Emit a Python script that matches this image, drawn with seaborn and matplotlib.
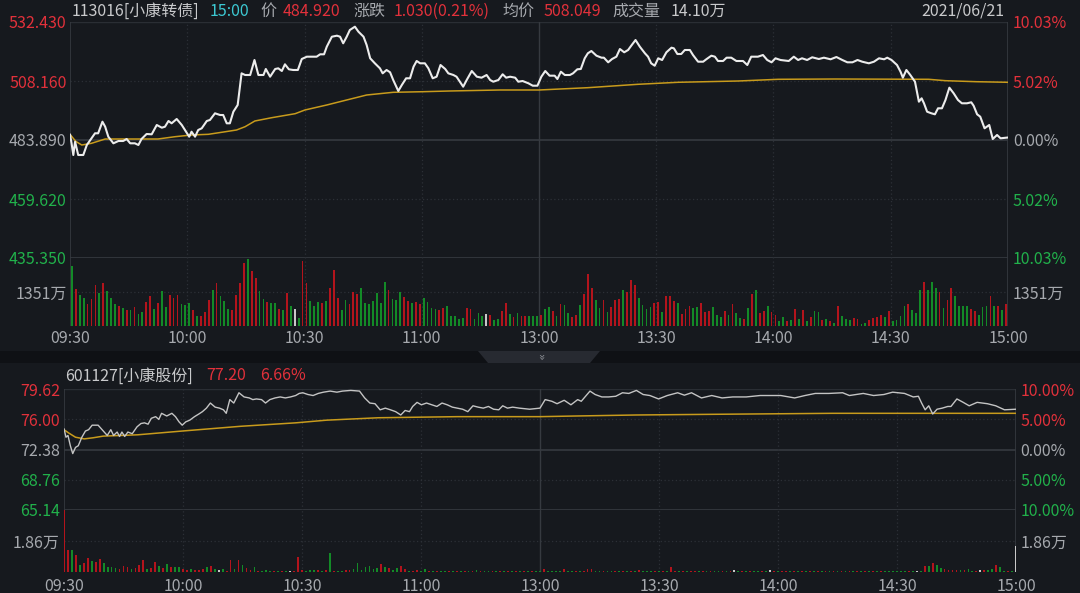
import numpy as np
import pandas as pd
import matplotlib
matplotlib.use('Agg')
import matplotlib.pyplot as plt
import seaborn as sns
from matplotlib.patches import Polygon, Rectangle

# --- colours ---
BG = '#16191e'
RED = '#e2313b'
GREEN = '#21b14b'
GRAY = '#a6a9ae'
LIGHT = '#c9cacc'
CYAN = '#3cc8d2'
GOLD = '#c89b1c'
GRID_SOLID = '#363a40'
GRID_DOT = '#2c3036'

sns.set_theme(style='dark', rc={'figure.facecolor': BG, 'axes.facecolor': BG,
                                'savefig.facecolor': BG})
plt.rcParams['font.family'] = ['Noto Sans CJK SC', 'DejaVu Sans']

# --- 1. 113016 小康转债: minute price / average price ---
cb_min = [0, 0.4, 0.85, 1.3, 2.1, 3.4, 4.3, 5.5, 6.4, 7.2,
          8.3, 9.0, 9.8, 11.1, 12.4, 13.6, 14.5, 15.4, 16.6, 17.5,
          18.3, 19.6, 20.9, 22.2, 23.5, 24.3, 25.2, 26.0, 27.3, 28.6,
          29.4, 30.5, 31.1, 32.0, 32.8, 33.7, 35.0, 35.8, 37.1, 38.4,
          39.2, 40.1, 40.9, 41.8, 42.9, 43.9, 44.8, 46.1, 47.2, 48.2,
          49.5, 50.1, 51.2, 52.5, 53.3, 54.2, 55.0, 56.0, 57.1, 58.3,
          59.3, 60.6, 63.1, 64.0, 65.0, 65.7, 67.0, 68.3, 69.1, 69.9,
          70.8, 71.6, 72.9, 73.8, 75.1, 75.9, 76.8, 78.0, 79.3, 80.0,
          81.0, 81.9, 82.7, 84.0, 84.9, 86.0, 87.0, 87.9, 88.7, 89.6,
          90.8, 91.7, 92.8, 93.8, 94.8, 96.0, 96.8, 98.1, 98.9, 100.6,
          101.5, 102.8, 104.1, 105.3, 106.6, 107.5, 108.3, 109.6, 110.7, 111.6,
          112.6, 113.9, 114.7, 115.8, 117.3, 118.4, 119.6, 120.6, 121.6, 122.7,
          124.0, 124.7, 125.6, 126.6, 127.9, 128.7, 129.8, 130.7, 131.7, 132.5,
          133.4, 134.7, 136.0, 136.6, 137.7, 138.7, 139.8, 140.7, 141.8, 142.8,
          143.6, 144.7, 145.8, 147.1, 147.9, 148.7, 149.6, 150.5, 151.5, 152.6,
          153.9, 154.5, 155.4, 156.4, 157.3, 158.6, 159.4, 160.7, 162.0, 162.8,
          164.1, 165.0, 165.8, 167.1, 168.0, 169.2, 170.5, 172.2, 173.3, 174.3,
          176.0, 177.3, 178.4, 179.5, 180.5, 181.8, 183.9, 185.2, 186.3, 187.3,
          188.6, 189.9, 191.6, 192.9, 194.6, 196.1, 197.6, 198.9, 200.2, 201.5,
          202.7, 204.4, 205.7, 207.0, 208.3, 209.1, 210.2, 211.6, 212.5, 213.1,
          214.0, 215.0, 216.2, 217.2, 217.9, 218.5, 219.3, 220.4, 221.3, 222.1,
          223.1, 224.0, 225.0, 226.1, 227.2, 228.2, 229.5, 230.6, 231.2, 232.1,
          232.9, 234.0, 234.6, 235.2, 236.1, 237.2, 238.1, 240]
cb_price = [486.2, 482.53, 477.72, 483.19, 477.72, 477.72, 481.83, 484.59, 486.65, 486.65,
            491.42, 489.36, 485.25, 482.53, 483.48, 483.48, 484.30, 482.53, 482.53, 481.83,
            484.30, 486.36, 486.23, 490.06, 488.95, 489.36, 491.71, 490.76, 492.53, 490.06,
            488.00, 485.25, 487.30, 485.25, 488.00, 488.70, 491.71, 492.12, 494.87, 494.17,
            494.17, 490.76, 490.76, 495.53, 498.29, 511.31, 510.63, 510.63, 516.80, 510.63,
            510.63, 513.10, 509.93, 513.10, 513.38, 512.27, 515.03, 512.97, 512.69, 512.69,
            517.21, 518.16, 518.16, 519.14, 519.14, 522.27, 526.38, 526.80, 526.38, 523.67,
            526.38, 529.14, 530.50, 528.44, 526.38, 522.97, 517.50, 515.44, 513.38, 511.31,
            512.69, 511.74, 508.57, 504.05, 506.51, 509.27, 509.27, 514.04, 516.39, 515.44,
            515.44, 513.38, 509.27, 509.93, 514.74, 513.10, 511.31, 510.63, 509.93, 505.82,
            508.57, 512.27, 509.93, 509.52, 510.63, 508.57, 507.87, 508.57, 510.92, 509.52,
            509.93, 509.52, 507.87, 508.16, 507.21, 506.23, 506.23, 509.93, 512.27, 510.35,
            510.35, 508.98, 511.99, 510.63, 510.63, 511.31, 512.97, 513.10, 517.50, 519.56,
            520.50, 518.57, 517.75, 517.75, 515.85, 517.21, 518.16, 521.32, 519.97, 520.91,
            522.68, 525.02, 522.27, 519.56, 518.16, 515.44, 514.45, 517.50, 516.80, 519.97,
            521.86, 521.62, 519.27, 519.27, 520.91, 520.91, 518.85, 516.10, 516.10, 517.09,
            518.57, 518.16, 516.39, 516.39, 517.75, 517.75, 516.39, 516.39, 514.74, 518.16,
            518.16, 518.85, 516.80, 515.85, 517.50, 516.80, 516.39, 518.16, 516.80, 517.50,
            516.80, 517.91, 517.21, 517.75, 517.09, 518.03, 516.80, 515.85, 515.85, 516.80,
            516.10, 515.44, 516.10, 517.50, 517.09, 517.75, 516.80, 514.74, 511.99, 509.52,
            512.69, 510.63, 507.87, 499.65, 501.04, 498.99, 495.53, 494.87, 494.46, 496.93,
            496.93, 500.35, 505.41, 503.10, 500.35, 498.99, 498.99, 499.40, 498.00, 494.46,
            493.48, 488.70, 489.36, 490.06, 484.30, 485.95, 484.59, 484.92]
cb_avg_min = [0, 1.5, 3.0, 5.5, 9.0, 22.5, 26.9, 31.1, 35.4, 38.8, 42.6, 44.8, 47.3,
              51.6, 57.6, 60.1, 65.7, 70.8, 75.9, 82.7, 90.4, 97.2, 110.0, 120.0,
              132.5, 145.3, 155.6, 171.0, 181.2, 195.8, 219.7, 224.0, 231.9, 240]
cb_avg = [486.2, 483.3, 481.83, 482.53, 484.30, 484.30, 485.25, 485.95, 486.23, 487.06,
          488.00, 489.36, 491.71, 493.06, 494.71, 496.23, 498.29, 500.35, 502.40, 503.51,
          503.76, 504.05, 504.46, 504.46, 505.41, 506.80, 507.63, 508.16, 508.86, 508.98,
          508.86, 508.29, 507.87, 507.63]
# volume per minute (万), direction r=up g=down w=flat
cb_vol = [2391, 1486, 1216, 1121, 878, 1054, 1621, 1324, 1716, 1378,
          1108, 878, 784, 716, 648, 648, 743, 473, 540, 946,
          1175, 676, 905, 1378, 770, 1243, 1108, 1243, 878, 851,
          919, 635, 405, 392, 540, 1040, 1419, 1689, 1175, 1013,
          676, 648, 1243, 1689, 2499, 2675, 2202, 1891, 1378, 1054,
          973, 905, 905, 662, 635, 1310, 811, 676, 311, 2594,
          1689, 1000, 811, 973, 932, 1013, 1513, 2229, 1108, 648,
          1040, 878, 1351, 1283, 1513, 905, 878, 986, 1310, 905,
          1756, 1446, 1081, 1040, 1351, 1148, 1013, 905, 946, 878,
          1108, 946, 716, 676, 648, 703, 784, 405, 405, 270,
          311, 716, 676, 297, 500, 405, 473, 446, 243, 270,
          581, 919, 473, 365, 500, 405, 405, 405, 405, 405,
          446, 676, 743, 581, 405, 878, 851, 500, 338, 446,
          851, 1283, 2067, 1527, 1040, 716, 1040, 540, 770, 1040,
          1081, 1419, 1351, 1824, 1648, 1121, 838, 676, 743, 932,
          973, 540, 1202, 1175, 986, 932, 473, 676, 784, 716,
          770, 905, 540, 608, 743, 446, 365, 608, 446, 878,
          500, 311, 270, 716, 1256, 1446, 500, 608, 811, 540,
          446, 203, 365, 203, 230, 676, 270, 648, 203, 338,
          581, 540, 243, 297, 203, 135, 811, 405, 270, 243,
          311, 270, 95, 122, 243, 311, 338, 446, 338, 581,
          203, 243, 405, 784, 878, 635, 500, 1419, 1756, 1419,
          1729, 1513, 1351, 716, 1040, 1513, 1189, 811, 784, 811,
          676, 581, 432, 743, 811, 1189, 811, 784, 635, 878]
cb_dir = ("grggrrrgrg" "ggrgrgrggr" "rgrggrrrgg" "grgrrrgrgg" "grrrrgrrgg"
          "rggrgrgwgr" "rgggrgrrrg" "grrrgggggg" "grgggrrgrr" "ggggrrgggg"
          "grrgggwrgg" "rrgrgrrggg" "rggrgrggrr" "grrrggrgrr" "rgrrrggggr"
          "rgrrrgrrrg" "grrrgggrgr" "ggrgrgrrgr" "rggrgrgrgr" "ggrgrgrggg"
          "rrggrrrrgr" "ggggrgggrg" "ggrgrrgggg" "rrgggrgrgr")

# --- 2. 601127 小康股份 ---
st_min = [0, 0.5, 1.0, 1.6, 2.2, 2.9, 3.6, 4.5, 5.4, 6.2,
          7.1, 8.6, 9.9, 10.9, 11.8, 12.5, 13.4, 14.0, 14.6, 15.3,
          16.1, 17.2, 18.4, 19.4, 20.3, 21.2, 22.0, 23.1, 23.9, 24.6,
          25.9, 27.2, 28.1, 29.0, 29.8, 30.7, 31.7, 32.9, 34.0, 34.9,
          35.9, 36.9, 38.1, 39.2, 40.2, 40.9, 41.8, 42.8, 44.1, 45.4,
          46.7, 47.6, 48.5, 49.8, 50.8, 51.9, 53.2, 54.5, 55.8, 57.1,
          58.4, 59.3, 60.2, 61.5, 62.8, 64.1, 65.4, 67.1, 68.8, 70.2,
          72.3, 74.5, 75.8, 77.1, 78.4, 79.7, 81.0, 82.3, 83.6, 84.9,
          86.0, 87.1, 87.9, 89.0, 90.1, 91.4, 92.7, 94.0, 95.3, 96.6,
          97.9, 99.2, 100.5, 101.8, 103.1, 104.4, 105.7, 107.0, 108.3, 109.6,
          110.6, 111.8, 113.1, 114.8, 117.4, 120.0, 121.3, 123.0, 124.3, 126.1,
          127.8, 129.5, 130.4, 132.6, 133.9, 135.6, 137.3, 139.1, 140.8, 142.4,
          144.3, 146.0, 147.7, 149.9, 152.1, 154.7, 156.4, 158.2, 160.7, 163.3,
          165.9, 168.6, 172.0, 175.5, 180.7, 184.2, 186.8, 189.4, 192.8, 196.3,
          198.0, 201.5, 204.1, 206.7, 208.9, 211.9, 214.1, 215.4, 216.2, 217.1,
          218.0, 219.0, 220.1, 221.4, 222.8, 223.6, 225.1, 226.7, 228.2, 230.2,
          232.8, 234.9, 237.1, 240]
st_price = [74.87, 73.85, 74.06, 72.83, 71.89, 72.63, 72.83, 73.85, 74.59, 74.75,
            75.29, 75.29, 74.59, 74.06, 74.75, 74.06, 74.47, 73.94, 74.47, 73.94,
            74.47, 74.27, 75.09, 75.49, 75.57, 75.41, 76.11, 76.31, 75.98, 76.71,
            76.39, 76.71, 76.31, 75.69, 75.29, 75.69, 75.89, 76.31, 76.63, 76.91,
            77.33, 77.94, 77.45, 77.33, 77.13, 76.71, 78.35, 77.94, 79.17, 78.67,
            78.55, 78.35, 78.43, 78.35, 77.94, 78.35, 78.55, 78.67, 78.55, 78.67,
            78.84, 79.09, 79.17, 78.96, 78.84, 79.09, 79.24, 79.37, 79.24, 79.37,
            79.45, 79.37, 78.55, 77.94, 77.86, 77.13, 77.33, 77.13, 76.91, 76.51,
            77.05, 76.91, 77.53, 78.02, 77.73, 77.94, 77.73, 77.53, 77.94, 77.73,
            77.45, 77.33, 77.20, 76.91, 77.61, 77.45, 77.33, 77.53, 77.20, 77.13,
            77.61, 77.33, 77.45, 77.33, 77.20, 77.33, 78.35, 78.15, 77.86, 78.27,
            77.73, 78.35, 78.15, 79.37, 78.96, 78.67, 78.67, 78.75, 79.17, 79.09,
            79.45, 78.96, 78.84, 78.43, 78.84, 79.17, 78.88, 79.17, 78.55, 78.84,
            78.55, 78.67, 78.67, 78.84, 78.84, 78.55, 78.84, 79.09, 79.09, 79.17,
            78.84, 79.09, 78.84, 78.96, 79.24, 79.09, 78.67, 78.75, 77.94, 77.13,
            77.61, 76.63, 77.20, 77.33, 77.53, 77.53, 78.43, 78.02, 77.61, 78.02,
            77.86, 77.61, 77.13, 77.20]
st_avg_min = [0, 1.2, 2.9, 5.1, 7.3, 9.9, 18.6, 29.8, 44.6, 58.4, 66.2, 79.3, 99.2,
              120.0, 129.1, 144.3, 163.3, 193.7, 240]
st_avg = [74.75, 74.35, 73.85, 73.65, 73.78, 73.98, 74.14, 74.59, 75.16, 75.57, 75.89,
          76.18, 76.31, 76.31, 76.39, 76.51, 76.59, 76.71, 76.71]
st_vol = [3.72, 1.34, 1.34, 1.03, 0.41, 0.56, 0.83, 0.68, 0.62, 0.76,
          0.56, 0.31, 0.31, 0.27, 0.21, 0.39, 0.31, 0.21, 0.27, 0.41,
          0.72, 0.21, 0.25, 0.58, 0.35, 0.25, 0.48, 0.31, 0.31, 0.31,
          0.19, 0.10, 0.17, 0.14, 0.14, 0.21, 0.31, 0.35, 0.19, 0.14,
          0.21, 0.06, 0.72, 0.21, 0.72, 0.41, 0.25, 0.14, 0.31, 0.06,
          0.06, 0.14, 0.04, 0.06, 0.04, 0.06, 0.04, 0.06, 0.06, 0.93,
          0.14, 0.06, 0.10, 0.14, 0.10, 0.06, 0.14, 1.14, 0.06, 0.04,
          0.06, 0.10, 0.14, 0.21, 0.56, 0.14, 0.31, 0.35, 0.21, 0.27,
          0.48, 0.31, 0.27, 0.14, 0.27, 0.39, 0.19,
          0.04, 0.06, 0.10, 0.06, 0.17, 0.06, 0.04, 0.06, 0.08, 0.06,
          0.04, 0.06, 0.06, 0.08, 0.06, 0.04, 0.06, 0.10, 0.06, 0.04,
          0.08, 0.06, 0.06, 0.04, 0.08, 0.06, 0.04, 0.06, 0.06, 0.08,
          0.06, 0.04, 0.06, 0.08,
          0.17, 0.06, 0.04, 0.06, 0.06, 0.21, 0.06, 0.04, 0.06, 0.04,
          0.06, 0.17, 0.21, 0.06, 0.04, 0.06, 0.04, 0.06, 0.04, 0.06,
          0.04, 0.06, 0.06, 0.04, 0.14, 0.06, 0.06, 0.04, 0.06, 0.08,
          0.06, 0.04, 0.31, 0.06, 0.06, 0.04, 0.06, 0.04, 0.06, 0.04,
          0.06, 0.04, 0.06, 0.06, 0.04, 0.06, 0.04, 0.06, 0.10, 0.04,
          0.06, 0.06, 0.04, 0.06, 0.04, 0.06, 0.04, 0.10, 0.06, 0.04,
          0.06, 0.04, 0.06, 0.04, 0.06, 0.06, 0.04, 0.06, 0.04, 0.06,
          0.04, 0.06, 0.06, 0.04, 0.06, 0.04, 0.06, 0.06, 0.04, 0.06,
          0.04, 0.06, 0.06, 0.04, 0.06, 0.08, 0.06, 0.04, 0.06, 0.06,
          0.04, 0.06, 0.04, 0.06, 0.06, 0.04, 0.35, 0.39, 0.52, 0.41,
          0.27, 0.21, 0.14, 0.14, 0.14, 0.14, 0.10, 0.21, 0.06, 0.06,
          0.14, 0.10, 0.10, 0.21, 0.41, 0.31, 0.04, 0.04, 0.04, 1.55]
st_dir = ("rrgrgrrgrr" "ggggrrrgrr" "rgrrgrgrgg" "rrgrrrgrgw" "grrgrgrrgr"
          "gggrgrgwrr" "rgggrgrgrg" "grrggggggg" "rgrggrr"
          "grrggrgrgg" "rgrgrgrgrg" "grgrgrgrgr" "grgg"
          "rggggrggrg" "rrrggrggrg" "rgrgrgggrg" "rgrrgrgrrg"
          "rgrggrgrwg" "rgrggrgwrg" "rrgrgrgrgr" "grgrgrgrgr"
          "grgrgrgggg" "ggrgwgrgrg" "grrrrgrggr" "wrggrggrgw")

labels_cb_l = ['532.430', '508.160', '483.890', '459.620', '435.350']
levels_cb = [532.43, 508.16, 483.89, 459.62, 435.35]
labels_cb_r = ['10.03%', '5.02%', '0.00%', '5.02%', '10.03%']
labels_st_l = ['79.62', '76.00', '72.38', '68.76', '65.14']
levels_st = [79.62, 76.00, 72.38, 68.76, 65.14]
labels_st_r = ['10.00%', '5.00%', '0.00%', '5.00%', '10.00%']
level_colors = [RED, RED, GRAY, GREEN, GREEN]
time_ticks = [0, 30, 60, 90, 120, 150, 180, 210, 240]
time_labels = ['09:30', '10:00', '10:30', '11:00', '13:00', '13:30', '14:00', '14:30', '15:00']
pal = {'r': '#b3141c', 'g': '#138a27', 'w': '#c8c8c8'}

# --- figure layout (pixel boxes) ---
W, H = 1080, 593
FS = 11.5
fig = plt.figure(figsize=(W / 100, H / 100), dpi=100)


def box(x0, y0, x1, y1):
    return [x0 / W, 1 - y1 / H, (x1 - x0) / W, (y1 - y0) / H]


def clean(ax):
    ax.set_facecolor(BG)
    ax.grid(False)
    ax.set_xlabel('')
    ax.set_ylabel('')
    for s in ax.spines.values():
        s.set_visible(False)
    ax.tick_params(length=0, labelsize=FS)


def vgrid(ax):
    for t in time_ticks[1:-1]:
        if t == 120:
            ax.axvline(t, color=GRID_SOLID, lw=1.0, zorder=0)
        else:
            ax.axvline(t, color=GRID_DOT, lw=0.9, ls=(0, (1, 2)), zorder=0)


def side_labels(ax, levels, left, right, colors, lpad, rpad, ylim):
    ax.set_yticks(levels)
    ax.set_yticklabels(left)
    ax.tick_params(axis='y', pad=lpad)
    for lab, c in zip(ax.get_yticklabels(), colors):
        lab.set_color(c)
    axr = ax.twinx()
    clean(axr)
    axr.set_ylim(*ylim)
    axr.set_yticks(levels)
    axr.set_yticklabels(right)
    axr.tick_params(axis='y', pad=rpad)
    for lab, c in zip(axr.get_yticklabels(), colors):
        lab.set_color(c)
    return axr


def price_panel(rect, mins, price, amins, avg, levels, lab_l, lab_r, lw, pcolor, lpad, rpad):
    ax = fig.add_axes(rect)
    sns.lineplot(x=amins, y=avg, ax=ax, color=GOLD, linewidth=1.1, estimator=None, sort=False)
    sns.lineplot(x=mins, y=price, ax=ax, color=pcolor, linewidth=lw, estimator=None, sort=False)
    clean(ax)
    ylim = (levels[-1], levels[0])
    ax.set_xlim(0, 240)
    ax.set_ylim(*ylim)
    ax.set_xticks([])
    ax.axhline(levels[0], color='#2a2e34', lw=1.0, zorder=0)
    ax.axhline(levels[1], color=GRID_DOT, lw=0.9, ls=(0, (1, 2)), zorder=0)
    ax.axhline(levels[2], color=GRID_SOLID, lw=1.2, zorder=0)
    ax.axhline(levels[3], color=GRID_DOT, lw=0.9, ls=(0, (1, 2)), zorder=0)
    ax.axhline(levels[4], color=GRID_SOLID, lw=1.2, zorder=0)
    ax.axvline(0, color=GRID_SOLID, lw=1.2, zorder=0.5)
    ax.axvline(240, color=GRID_SOLID, lw=1.2, zorder=0.5)
    vgrid(ax)
    side_labels(ax, levels, lab_l, lab_r, level_colors, lpad, rpad, ylim)
    return ax


def volume_panel(rect, pos, vol, dirs, vmax, vlabel, lpad, rpad, xpad):
    ax = fig.add_axes(rect)
    df = pd.DataFrame({'m': pos, 'vol': vol, 'dir': list(dirs)})
    sns.barplot(data=df, x='m', y='vol', hue='dir', palette=pal, native_scale=True,
                dodge=False, width=0.45, legend=False, errorbar=None, saturation=1,
                linewidth=0, edgecolor='none', ax=ax)
    clean(ax)
    ax.set_xlim(0, 240)
    ax.set_ylim(0, vmax)
    ax.axhline(vmax / 2, color=GRID_DOT, lw=0.9, ls=(0, (1, 2)), zorder=0)
    ax.axvline(0, color=GRID_SOLID, lw=1.2, zorder=0.5)
    ax.axvline(240, color=GRID_SOLID, lw=1.2, zorder=0.5)
    vgrid(ax)
    ax.set_xticks(time_ticks)
    ax.set_xticklabels(time_labels, color=GRAY)
    ax.tick_params(axis='x', pad=xpad)
    side_labels(ax, [vmax / 2], [vlabel], [vlabel], [GRAY], lpad, rpad, (0, vmax))
    return ax


# top panel: 小康转债
price_panel(box(70, 22, 1008, 258), cb_min, cb_price, cb_avg_min, cb_avg, levels_cb,
            labels_cb_l, labels_cb_r, 1.5, '#ececec', 2.5, 3.5)
volume_panel(box(70, 258, 1008, 326), np.arange(240) + 0.5, cb_vol, cb_dir, 2702, '1351万',
             2.5, 3.5, 3)

# bottom panel: 小康股份
price_panel(box(64, 389, 1016, 510), st_min, st_price, st_avg_min, st_avg, levels_st,
            labels_st_l, labels_st_r, 1.0, '#c4c4c4', 3, 3)
volume_panel(box(64, 510, 1016, 572), np.arange(241), st_vol, st_dir, 3.72, '1.86万',
             3, 3, 4)

# --- headers ---
def ptext(x, y, s, color, ha='left'):
    fig.text(x / W, 1 - y / H, s, color=color, fontsize=FS, ha=ha, va='center')


ptext(72, 11, '113016[小康转债]', LIGHT)
ptext(210, 11, '15:00', CYAN)
ptext(260, 11, '价', GRAY)
ptext(283, 11, '484.920', RED)
ptext(353, 11, '涨跌', GRAY)
ptext(394, 11, '1.030(0.21%)', RED)
ptext(502, 11, '均价', GRAY)
ptext(543, 11, '508.049', RED)
ptext(612, 11, '成交量', GRAY)
ptext(671, 11, '14.10万', LIGHT)
ptext(1004, 11, '2021/06/21', LIGHT, ha='right')

ptext(65, 376, '601127[小康股份]', LIGHT)
ptext(206, 376, '77.20', RED)
ptext(260, 376, '6.66%', RED)

# separator strip with collapse tab
fig.patches.append(Rectangle((0, 1 - 363 / H), 1, 12 / H, transform=fig.transFigure,
                             facecolor='#0f1115', edgecolor='none'))
fig.patches.append(Polygon([(478 / W, 1 - 351 / H), (600 / W, 1 - 351 / H),
                            (590 / W, 1 - 363 / H), (488 / W, 1 - 363 / H)],
                           closed=True, transform=fig.transFigure,
                           facecolor='#272a31', edgecolor='none'))
fig.text(540 / W, 1 - 357 / H, '»', color='#8d9096', fontsize=8, rotation=-90,
         ha='center', va='center', family='DejaVu Sans')

fig.savefig('out.png', dpi=100, facecolor=BG)
